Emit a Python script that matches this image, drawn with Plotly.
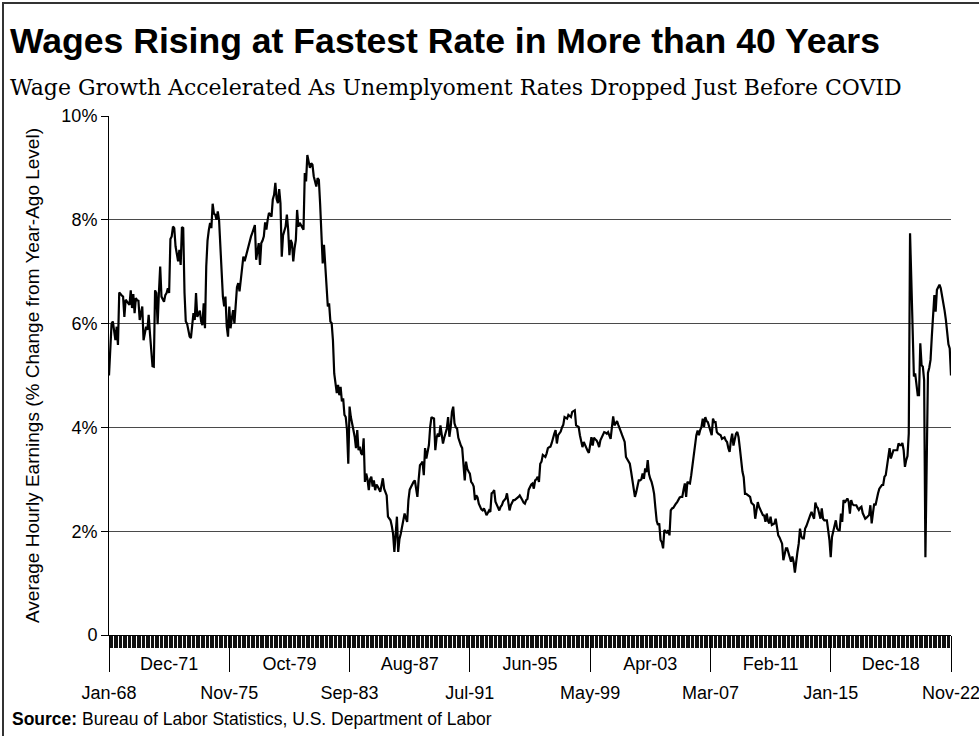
import pandas as pd
import plotly.graph_objects as go

# ---------------- data ----------------
MONTHS = pd.date_range("1968-01-01", "2022-11-01", freq="MS").strftime("%b-%y").tolist()

WAGE_GROWTH = [
    # 1968
    5.0, 5.5, 6.0, 6.04, 5.85, 5.68, 5.94, 5.59, 6.6, 6.56, 6.54, 6.52,
    # 1969
    6.13, 6.46, 6.42, 6.38, 6.36, 6.64, 6.3, 6.57, 6.2, 6.49, 6.45, 6.44,
    # 1970
    6.07, 6.2, 6.33, 5.68, 5.85, 5.94, 5.88, 6.17, 5.81, 5.4, 5.18, 5.17,
    # 1971
    6.64, 6.59, 5.99, 6.6, 7.1, 6.52, 6.45, 6.42, 6.55, 6.59, 6.68, 6.59,
    # 1972
    7.63, 7.68, 7.87, 7.84, 7.49, 7.3, 7.2, 7.42, 7.13, 7.86, 7.84, 6.6,
    # 1973
    6.04, 6.0, 5.85, 5.75, 5.72, 6.0, 6.2, 6.07, 6.59, 6.13, 6.2, 6.25,
    # 1974
    6.04, 5.97, 6.39, 5.91, 7.1, 7.6, 7.8, 7.94, 7.84, 8.31, 8.12, 8.1,
    # 1975
    8.0, 8.16, 8.0, 7.5, 7.1, 6.52, 6.33, 6.52, 5.95, 5.75, 6.33, 5.91,
    # 1976
    6.1, 6.26, 6.0, 6.4, 6.7, 6.78, 6.62, 6.84, 7.1, 7.29, 7.2, 7.3,
    # 1977
    7.4, 7.52, 7.6, 7.68, 7.75, 7.81, 7.9, 7.23, 7.4, 7.55, 7.13, 7.55,
    # 1978
    7.6, 7.68, 7.95, 7.81, 8.0, 8.13, 8.1, 8.06, 8.39, 8.48, 8.71, 8.4,
    # 1979
    8.32, 8.59, 8.32, 7.29, 7.7, 7.81, 7.87, 8.1, 7.81, 7.32, 7.61, 7.55,
    # 1980
    7.2, 7.45, 7.61, 8.19, 7.87, 7.94, 7.9, 7.84, 7.81, 8.9, 8.74, 9.25,
    # 1981
    9.1, 9.0, 9.09, 9.06, 8.84, 8.7, 8.64, 8.8, 8.77, 8.3, 7.68, 7.16,
    # 1982
    7.52, 7.16, 6.65, 6.33, 6.39, 6.04, 6.01, 5.68, 5.04, 4.78, 4.66, 4.82,
    # 1983
    4.62, 4.78, 4.5, 4.56, 4.24, 4.2, 3.95, 3.3, 4.4, 4.2, 4.1, 3.95,
    # 1984
    3.82, 3.6, 3.95, 3.56, 3.63, 3.5, 3.47, 3.79, 2.95, 3.11, 3.0, 2.79,
    # 1985
    3.0, 3.05, 2.86, 2.98, 2.79, 2.9, 2.86, 2.8, 2.76, 2.89, 3.02, 2.82,
    # 1986
    2.75, 2.69, 2.28, 2.25, 2.21, 2.1, 1.95, 1.6, 2.08, 2.28, 1.6, 1.85,
    # 1987
    1.95, 2.1, 2.2, 2.34, 2.25, 2.18, 2.6, 2.8, 2.85, 2.92, 2.95, 2.98,
    # 1988
    2.85, 2.66, 3.0, 3.27, 3.3, 3.34, 3.08, 3.6, 3.4, 3.5, 3.66, 4.01,
    # 1989
    4.2, 4.18, 4.17, 3.56, 3.8, 3.88, 3.82, 4.04, 3.82, 3.69, 3.8, 3.92,
    # 1990
    3.98, 4.2, 3.82, 4.0, 4.3, 4.4, 4.08, 4.0, 3.98, 3.8, 3.7, 3.65,
    # 1991
    3.6, 3.34, 2.98, 3.34, 3.2, 3.15, 3.11, 2.95, 2.92, 2.86, 2.6, 2.69,
    # 1992
    2.65, 2.53, 2.47, 2.42, 2.4, 2.44, 2.38, 2.31, 2.35, 2.4, 2.37, 2.73,
    # 1993
    2.75, 2.79, 2.57, 2.5, 2.45, 2.4, 2.47, 2.5, 2.57, 2.6, 2.63, 2.73,
    # 1994
    2.6, 2.4, 2.5, 2.57, 2.6, 2.6, 2.62, 2.63, 2.66, 2.69, 2.63, 2.6,
    # 1995
    2.55, 2.53, 2.6, 2.62, 2.8, 2.86, 2.9, 2.92, 2.82, 2.98, 3.0, 3.05,
    # 1996
    2.95, 3.3, 3.34, 3.47, 3.45, 3.43, 3.5, 3.6, 3.62, 3.63, 3.7, 3.82,
    # 1997
    3.88, 3.95, 3.69, 3.85, 3.88, 3.92, 4.0, 4.05, 4.2, 4.18, 4.17, 4.24,
    # 1998
    4.22, 4.2, 4.3, 4.32, 4.33, 4.04, 4.02, 4.01, 3.85, 3.75, 3.62, 3.72,
    # 1999
    3.65, 3.59, 3.55, 3.51, 3.7, 3.81, 3.65, 3.8, 3.77, 3.75, 3.7, 3.62,
    # 2000
    3.75, 3.81, 3.85, 3.91, 3.9, 3.88, 3.91, 3.85, 3.78, 4.0, 4.21, 4.04,
    # 2001
    4.08, 4.12, 4.05, 4.0, 3.92, 3.85, 3.78, 3.72, 3.43, 3.38, 3.33, 3.3,
    # 2002
    3.15, 3.0, 2.79, 2.66, 2.75, 2.85, 2.98, 2.98, 3.0, 3.11, 3.01, 3.21,
    # 2003
    3.14, 3.37, 3.1, 3.01, 2.95, 2.85, 2.72, 2.45, 2.2, 2.12, 2.15, 1.83,
    # 2004
    1.79, 1.67, 2.02, 2.0, 1.96, 2.02, 1.92, 2.4, 2.44, 2.45, 2.5, 2.53,
    # 2005
    2.56, 2.6, 2.65, 2.66, 2.66, 2.8, 2.92, 2.66, 2.95, 2.93, 2.92, 3.08,
    # 2006
    3.3, 3.5, 3.65, 3.85, 3.94, 3.85, 3.95, 4.01, 4.17, 4.01, 4.2, 4.12,
    # 2007
    4.1, 4.01, 3.9, 3.85, 4.17, 4.1, 4.1, 3.91, 3.88, 3.87, 3.85, 3.78,
    # 2008
    3.8, 3.81, 3.75, 3.72, 3.6, 3.53, 3.75, 3.88, 3.65, 3.8, 3.88, 3.91,
    # 2009
    3.81, 3.6, 3.35, 3.15, 3.04, 2.72, 2.72, 2.7, 2.69, 2.66, 2.55, 2.52,
    # 2010
    2.5, 2.24, 2.4, 2.56, 2.47, 2.42, 2.35, 2.31, 2.3, 2.18, 2.34, 2.2,
    # 2011
    2.15, 2.28, 2.12, 2.13, 2.15, 2.24, 2.02, 1.92, 1.88, 1.83, 1.76, 1.44,
    # 2012
    1.6, 1.67, 1.67, 1.57, 1.45, 1.41, 1.51, 1.41, 1.2, 1.45, 1.6, 1.76,
    # 2013
    2.05, 1.9, 1.86, 1.86, 2.05, 2.1, 2.18, 2.25, 2.31, 2.37, 2.3, 2.24,
    # 2014
    2.55, 2.47, 2.44, 2.3, 2.24, 2.44, 2.24, 2.21, 2.21, 2.21, 2.02, 1.83,
    # 2015
    1.5, 1.89, 2.0, 2.1, 2.21, 2.05, 2.02, 2.02, 2.34, 2.18, 2.6, 2.55,
    # 2016
    2.58, 2.63, 2.57, 2.34, 2.6, 2.52, 2.5, 2.5, 2.5, 2.45, 2.41, 2.45,
    # 2017
    2.47, 2.35, 2.28, 2.24, 2.26, 2.28, 2.31, 2.5, 2.15, 2.35, 2.53, 2.5,
    # 2018
    2.65, 2.73, 2.82, 2.85, 2.89, 2.89, 3.05, 3.08, 3.24, 3.43, 3.6, 3.4,
    # 2019
    3.5, 3.56, 3.56, 3.56, 3.56, 3.69, 3.66, 3.66, 3.7, 3.56, 3.24, 3.37,
    # 2020
    3.45, 3.88, 7.74, 6.84, 5.88, 4.98, 5.04, 4.79, 4.62, 4.62, 5.62, 5.2,
    # 2021
    5.17, 4.91, 1.5, 3.3, 5.05, 5.15, 5.3, 5.75, 6.26, 6.55, 6.23, 6.65,
    # 2022 (Jan-Nov)
    6.7, 6.75, 6.68, 6.55, 6.39, 6.25, 6.07, 5.85, 5.6, 5.52, 5.0,
]

TOP_LABELS = ["Dec-71", "Oct-79", "Aug-87", "Jun-95", "Apr-03", "Feb-11", "Dec-18"]
BOTTOM_LABELS = ["Jan-68", "Nov-75", "Sep-83", "Jul-91", "May-99", "Mar-07", "Jan-15", "Nov-22"]
Y_TICKS = [0, 2, 4, 6, 8, 10]
Y_TICK_TEXT = ["0", "2%", "4%", "6%", "8%", "10%"]

TITLE = "Wages Rising at Fastest Rate in More than 40 Years"
SUBTITLE = "Wage Growth Accelerated As Unemplyoment Rates Dropped Just Before COVID"
Y_TITLE = "Average Hourly Earnings (% Change from Year-Ago Level)"
SOURCE = "<b>Source:</b> Bureau of Labor Statistics, U.S. Department of Labor"

# ---------------- layout constants ----------------
W, H = 979, 736
L, R, T, B = 109, 28, 116, 101
PW, PH = W - L - R, H - T - B
NARROW = "Liberation Sans Narrow, Arial Narrow, sans-serif"


def px_x(x):
    return (x - L) / PW


def px_y(y):
    return (H - B - y) / PH


fig = go.Figure()
fig.add_trace(go.Scatter(x=MONTHS, y=WAGE_GROWTH, mode="lines",
                         line=dict(color="black", width=2.2),
                         hoverinfo="x+y", showlegend=False))
for ax in ("x2", "x3"):
    fig.add_trace(go.Scatter(x=MONTHS, y=WAGE_GROWTH, mode="lines", xaxis=ax,
                             opacity=0, hoverinfo="skip", showlegend=False))

common_x = dict(type="category", categoryorder="array", categoryarray=MONTHS,
                range=[0, len(MONTHS) - 1], showgrid=False, zeroline=False,
                fixedrange=True)

fig.update_layout(
    width=W, height=H,
    margin=dict(l=L, r=R, t=T, b=B, autoexpand=False),
    paper_bgcolor="white", plot_bgcolor="white",
    xaxis=dict(**common_x, tickmode="array", tickvals=MONTHS, ticks="outside",
               ticklen=12, tickwidth=1, tickcolor="#111",
               showticklabels=False, showline=True, linecolor="black", linewidth=1),
    xaxis2=dict(**common_x, overlaying="x", side="bottom", anchor="y",
                tickmode="array", tickvals=TOP_LABELS, ticktext=TOP_LABELS,
                ticks="", showline=False, ticklabelstandoff=16,
                tickfont=dict(family=NARROW, size=18, color="black")),
    xaxis3=dict(**common_x, overlaying="x", side="bottom", anchor="y",
                tickmode="array", tickvals=BOTTOM_LABELS, ticktext=BOTTOM_LABELS,
                ticks="outside", ticklen=36, tickwidth=1, tickcolor="black",
                showline=False, ticklabelstandoff=5,
                tickfont=dict(family=NARROW, size=18, color="black")),
    yaxis=dict(range=[0, 10], tickmode="array", tickvals=Y_TICKS, ticktext=Y_TICK_TEXT,
               showgrid=True, gridcolor="#4a4a4a", gridwidth=1,
               zeroline=False, ticks="outside", ticklen=7, tickcolor="black",
               showline=True, linecolor="black", linewidth=1, fixedrange=True,
               tickfont=dict(family=NARROW, size=18, color="black"),
               title=dict(text=Y_TITLE, standoff=16,
                          font=dict(family="Liberation Sans, Arial, sans-serif",
                                    size=19, color="black"))),
    annotations=[
        dict(text="<b>" + TITLE + "</b>", xref="paper", yref="paper",
             x=px_x(8), y=px_y(41), xanchor="left", yanchor="middle", showarrow=False,
             font=dict(family=NARROW, size=35.6, color="black")),
        dict(text=SUBTITLE, xref="paper", yref="paper",
             x=px_x(8), y=px_y(88), xanchor="left", yanchor="middle", showarrow=False,
             font=dict(family="DejaVu Serif, serif", size=22, color="black")),
        dict(text=SOURCE, xref="paper", yref="paper",
             x=px_x(10), y=px_y(719), xanchor="left", yanchor="middle", showarrow=False,
             font=dict(family=NARROW, size=17.5, color="black")),
    ],
    shapes=[
        dict(type="rect", xref="paper", yref="paper",
             x0=px_x(3), x1=px_x(W + 10), y0=px_y(H + 10), y1=px_y(3),
             line=dict(color="#333333", width=2), fillcolor="rgba(0,0,0,0)",
             layer="above"),
    ],
)

fig.write_html("out.html",
               config={"displayModeBar": False},
               post_script="document.body.style.margin='0px';document.body.style.padding='0px';")
